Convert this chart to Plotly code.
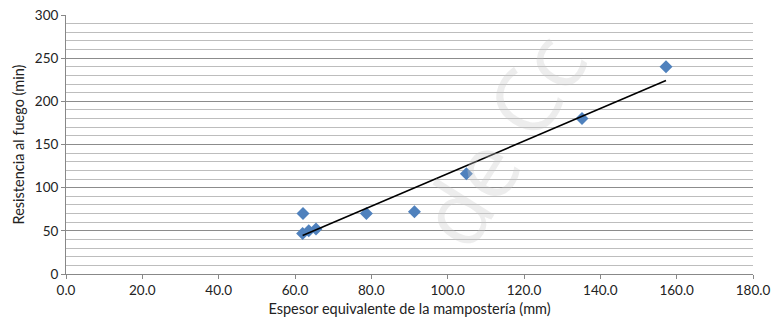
import numpy as np
import plotly.graph_objects as go

# Data
espesor_mm = [62.1, 62.0, 63.6, 65.5, 78.7, 91.3, 104.9, 135.2, 157.2]
resistencia_min = [70, 47, 50, 52, 70, 72, 116, 180, 240]

x_ticks = [0, 20, 40, 60, 80, 100, 120, 140, 160, 180]
y_ticks = [0, 50, 100, 150, 200, 250, 300]

x_title = "Espesor equivalente de la mampostería (mm)"
y_title = "Resistencia al fuego (min)"

# Linear trend line fitted to the data
slope, intercept = np.polyfit(espesor_mm, resistencia_min, 1)
trend_x = [min(espesor_mm), max(espesor_mm)]
trend_y = [slope * v + intercept for v in trend_x]

FONT = "Lato, 'Open Sans', sans-serif"

fig = go.Figure()

# Faint watermark
fig.add_annotation(
    text="de Cc", x=0.80, y=0.52, xref="paper", yref="paper",
    showarrow=False, textangle=-58,
    font=dict(family="Open Sans, sans-serif", size=90, color="rgba(200,200,200,0.33)"),
)

fig.add_trace(go.Scatter(
    x=espesor_mm, y=resistencia_min, mode="markers",
    marker=dict(symbol="diamond", size=10, color="#4F81BD",
                line=dict(width=0)),
    showlegend=False,
))
fig.add_trace(go.Scatter(
    x=trend_x, y=trend_y, mode="lines",
    line=dict(color="black", width=1.6),
    showlegend=False, hoverinfo="skip",
))

fig.update_layout(
    width=775, height=327,
    margin=dict(l=66, r=22, t=15, b=53),
    paper_bgcolor="white", plot_bgcolor="white",
    font=dict(family=FONT, size=13, color="#222"),
)

fig.update_xaxes(
    range=[0, 180], tickvals=x_ticks,
    ticktext=[f"{v:.1f}" for v in x_ticks],
    showgrid=False, zeroline=False, automargin=False,
    showline=True, linecolor="#888", linewidth=1,
    ticks="outside", ticklen=4, tickcolor="#888",
    title=dict(text=x_title, font=dict(size=14.5), standoff=6),
    tickfont=dict(size=13.5),
)
fig.update_yaxes(
    range=[0, 300], tickvals=y_ticks,
    showgrid=True, gridcolor="#8c8c8c", gridwidth=1,
    zeroline=False, automargin=False,
    showline=True, linecolor="#888", linewidth=1,
    ticks="outside", ticklen=4, tickcolor="#888",
    minor=dict(dtick=10, showgrid=True, gridcolor="#bdbdbd", gridwidth=1, ticks=""),
    title=dict(text=y_title, font=dict(size=14.5), standoff=6),
    tickfont=dict(size=13.5),
)

fig.write_html(
    "out.html",
    config={"displayModeBar": False},
    post_script="document.body.style.margin='0';document.body.style.overflow='hidden';",
)
